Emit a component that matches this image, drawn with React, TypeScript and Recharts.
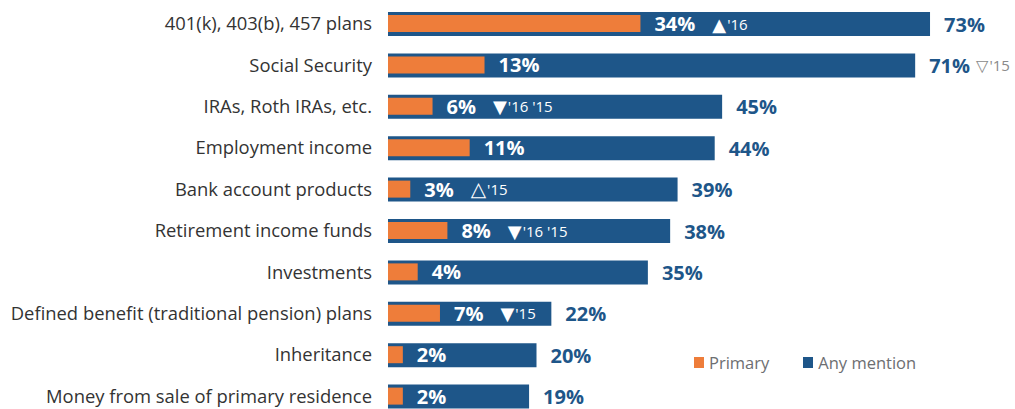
import React from 'react';
import { BarChart, Bar, XAxis, YAxis, LabelList, Legend } from 'recharts';

const categories = [
  '401(k), 403(b), 457 plans',
  'Social Security',
  'IRAs, Roth IRAs, etc.',
  'Employment income',
  'Bank account products',
  'Retirement income funds',
  'Investments',
  'Defined benefit (traditional pension) plans',
  'Inheritance',
  'Money from sale of primary residence',
];
const primaryValues = [34, 13, 6, 11, 3, 8, 4, 7, 2, 2];
const anyMentionValues = [73, 71, 45, 44, 39, 38, 35, 22, 20, 19];
const primaryMarks = ['▲', '', '▼', '', '△', '▼', '', '▼', '', ''];
const primaryYears = ["'16", '', "'16 '15", '', "'15", "'16 '15", '', "'15", '', ''];
const anyMarks = ['', '▽', '', '', '', '', '', '', '', ''];
const anyYears = ['', "'15", '', '', '', '', '', '', '', ''];

const BLUE = '#1e5689';
const ORANGE = '#ee7d3a';
const FONT = '"Open Sans", "Noto Sans", sans-serif';
const SYM = '"DejaVu Sans", sans-serif';

const data = categories.map((c, i) => ({
  category: c,
  primary: primaryValues[i],
  any: anyMentionValues[i],
}));

const markSize = (m: string) => (m === '△' ? 20 : m === '▽' ? 16 : 18);

const makeLabel = (color: string, noteColor: string, marks: string[], years: string[], gap: number) =>
  (props: any) => {
    const { x, y, width, height, value, index } = props;
    const mark = marks[index] || '';
    const year = years[index] || '';
    return (
      <text
        x={Number(x) + Number(width) + 14}
        y={Number(y) + Number(height) / 2}
        dominantBaseline="central"
        fill={color}
        fontFamily={FONT}
        fontWeight={700}
        fontSize={20}
      >
        {`${value}%`}
        {mark ? (
          <tspan dx={gap} fill={noteColor} fontFamily={SYM} fontWeight={400} fontSize={markSize(mark)}>
            {mark}
          </tspan>
        ) : null}
        {year ? (
          <tspan dx={1} fill={noteColor} fontWeight={400} fontSize={15}>
            {year}
          </tspan>
        ) : null}
      </text>
    );
  };

const PrimaryLabel = makeLabel('#ffffff', '#ffffff', primaryMarks, primaryYears, 17);
const AnyLabel = makeLabel(BLUE, '#8a8a8a', anyMarks, anyYears, 6);

const legendItems = [
  { label: 'Primary', color: ORANGE },
  { label: 'Any mention', color: BLUE },
];

const LegendContent = () => (
  <div style={{ display: 'flex', alignItems: 'center', fontFamily: FONT, fontSize: 16.5, color: '#6d6e71' }}>
    {legendItems.map((it, i) => (
      <div key={it.label} style={{ display: 'flex', alignItems: 'center', marginRight: i === 0 ? 34 : 0 }}>
        <span style={{ display: 'inline-block', width: 10, height: 11, background: it.color, marginRight: 5 }} />
        <span>{it.label}</span>
      </div>
    ))}
  </div>
);

export default function App() {
  return (
    <div style={{ position: 'absolute', left: 0, top: 0, width: 1015, height: 409, overflow: 'hidden', background: '#fff' }}>
      <BarChart
        width={1015}
        height={417}
        data={data}
        layout="vertical"
        margin={{ top: 3, right: 33, left: 0, bottom: 0 }}
      >
        <XAxis type="number" domain={[0, 80]} hide xAxisId="x" />
        <YAxis
          yAxisId="a"
          type="category"
          dataKey="category"
          width={388}
          axisLine={false}
          tickLine={false}
          tickSize={0}
          tickMargin={16}
          interval={0}
          tick={{ fill: '#333333', fontSize: 18.4, fontFamily: FONT }}
        />
        <YAxis yAxisId="b" type="category" dataKey="category" hide />
        <Legend
          layout="horizontal"
          verticalAlign="middle"
          align="center"
          content={<LegendContent />}
          wrapperStyle={{ left: 694, top: 351, width: 'auto' }}
        />
        <Bar dataKey="any" xAxisId="x" yAxisId="a" fill={BLUE} barSize={24} isAnimationActive={false}>
          <LabelList dataKey="any" content={<AnyLabel />} />
        </Bar>
        <Bar dataKey="primary" xAxisId="x" yAxisId="b" fill={ORANGE} barSize={17} isAnimationActive={false}>
          <LabelList dataKey="primary" content={<PrimaryLabel />} />
        </Bar>
      </BarChart>
    </div>
  );
}
